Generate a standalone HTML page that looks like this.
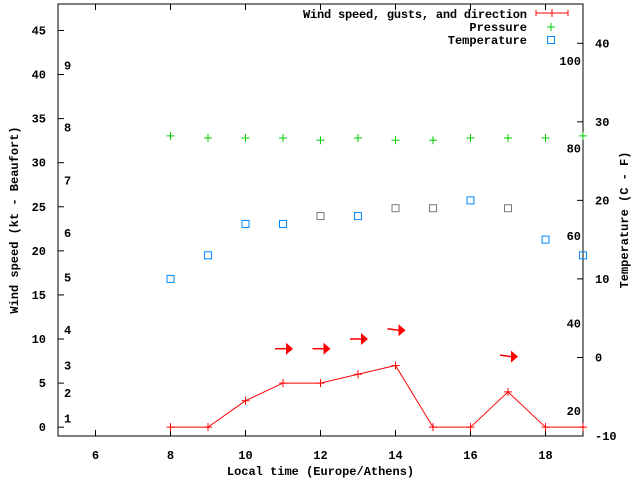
<!DOCTYPE html>
<html><head><meta charset="utf-8"><style>
body{margin:0;background:#fff}
svg{display:block;font-family:"Liberation Mono",monospace;font-size:12px;font-weight:bold}
</style></head><body>
<svg id="c" width="640" height="480" xmlns="http://www.w3.org/2000/svg"></svg>
<script>
const hours=[8,9,10,11,12,13,14,15,16,17,18,19];
const wind=[0,0,3,5,5,6,7,0,0,4,0,0];
const pressure=[82.9,82.4,82.4,82.4,81.9,82.4,81.9,81.9,82.4,82.4,82.4,82.9];
const temperature=[10,13,17,17,18,18,19,19,20,19,15,13];
const tempGray=[0,0,0,0,1,0,1,1,0,1,0,0];
const arrowHours=[11,12,13,14,17];
const arrowGust=[8.9,8.9,10,11,8];
const arrowTilt=[0,0,0,0.3,0.3];
const xTicks=[6,8,10,12,14,16,18];
const yTicks=[0,5,10,15,20,25,30,35,40,45];
const tTicks=[-10,0,10,20,30,40];
const bft=[[1,1.0],[2,3.9],[3,7.0],[4,11.0],[5,17.0],[6,22.0],[7,28.0],[8,34.0],[9,41.0]];
const pTicks=[20,40,60,80,100];

const L=58,R=583,T=4,B=436;
const X=h=>L+(h-5)/14*(R-L);
const Y=v=>B-(v+1)/49*(B-T);
const YT=t=>B-(t+10)/55*(B-T);
const YP=p=>411-(p-20)*4.375;
const svg=document.getElementById('c');
const NS='http://www.w3.org/2000/svg';
function mk(tag,attrs,name,txt){const e=document.createElementNS(NS,tag);for(const k in attrs)e.setAttribute(k,attrs[k]);


if(txt!==undefined)e.textContent=txt;svg.appendChild(e);return e;}
mk('rect',{x:L,y:T,width:R-L,height:B-T,fill:'none',stroke:'#000'},'plot-frame');
xTicks.forEach(h=>{const x=X(h);
mk('line',{x1:x,y1:B,x2:x,y2:B-6,stroke:'#000'},'x-tick');
mk('line',{x1:x,y1:T,x2:x,y2:T+6,stroke:'#000'},'x-tick-top');
mk('text',{x:x,y:B+23,'text-anchor':'middle'},'x-tick-label',h);});
yTicks.forEach(v=>{const y=Y(v);
mk('line',{x1:L,y1:y,x2:L+6,y2:y,stroke:'#000'},'y-tick');
mk('text',{x:L-12,y:y+4,'text-anchor':'end'},'y-tick-label',v);});
tTicks.forEach(t=>{const y=YT(t);
mk('line',{x1:R,y1:y,x2:R-6,y2:y,stroke:'#000'},'temp-tick');
mk('text',{x:R+12,y:y+4,'text-anchor':'start'},'temp-tick-label',t);});
bft.forEach(b=>mk('text',{x:64,y:Y(b[1])+4},'beaufort-label',b[0]));
pTicks.forEach(p=>mk('text',{x:581,y:YP(p)+4,'text-anchor':'end'},'pressure-label',p));
mk('text',{x:(L+R)/2,y:475,'text-anchor':'middle'},'x-axis-title','Local time (Europe/Athens)');
mk('text',{x:18,y:(T+B)/2,'text-anchor':'middle',transform:`rotate(-90 18 ${(T+B)/2})`},'y-axis-title','Wind speed (kt - Beaufort)');
mk('text',{x:628,y:(T+B)/2,'text-anchor':'middle',transform:`rotate(-90 628 ${(T+B)/2})`},'y2-axis-title','Temperature (C - F)');
mk('polyline',{points:hours.map((h,i)=>X(h)+','+Y(wind[i])).join(' ')+' '+R+','+Y(wind[wind.length-1]),fill:'none',stroke:'#f00'},'wind-line');
hours.forEach((h,i)=>{const x=X(h),y=Y(wind[i]);
mk('path',{d:`M${x-4},${y}h8M${x},${y-4}v8`,stroke:'#f00'},'wind-point');});
arrowHours.forEach((h,i)=>{const x=X(h),y=Y(arrowGust[i]),t=arrowTilt[i];
const x1=x-8,y1=y-t*5,x2=x+3,y2=y;
mk('line',{x1:x1,y1:y1,x2:x2,y2:y2,stroke:'#f00','stroke-width':1.5},'wind-arrow');
mk('polygon',{points:`${x2+7},${y2} ${x2},${y2-6} ${x2},${y2+6}`,fill:'#f00'},'wind-arrow-head');});
hours.forEach((h,i)=>{const x=X(h),y=YP(pressure[i]);
mk('path',{d:`M${x-4},${y}h8M${x},${y-4}v8`,stroke:'#0c0'},'pressure-point');});
hours.forEach((h,i)=>{const x=X(h),y=YT(temperature[i]);
mk('rect',{x:x-3.5,y:y-3.5,width:7,height:7,fill:'none',stroke:tempGray[i]?'#777':'#08f'},'temperature-point');});
mk('text',{x:527,y:18,'text-anchor':'end','textLength':224},'legend-wind-label','Wind speed, gusts, and direction');
mk('path',{d:'M536,13h32M536,10v6M568,10v6M552,9v8',stroke:'#f00'},'legend-wind-symbol');
mk('text',{x:527,y:31,'text-anchor':'end'},'legend-pressure-label','Pressure');
mk('path',{d:'M547,27h8M551,23v8',stroke:'#0c0'},'legend-pressure-symbol');
mk('text',{x:527,y:44,'text-anchor':'end'},'legend-temperature-label','Temperature');
mk('rect',{x:547.5,y:36.5,width:7,height:7,fill:'none',stroke:'#08f'},'legend-temperature-symbol');
</script>
</body></html>
